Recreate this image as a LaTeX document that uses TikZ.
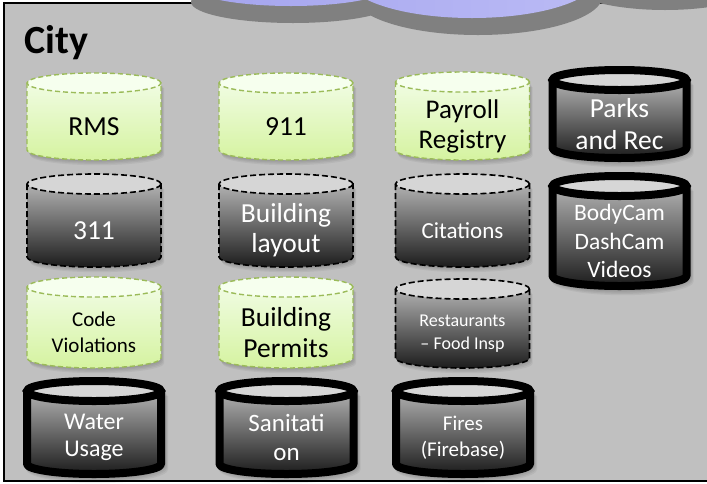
\documentclass[tikz,border=0pt]{standalone}
\usepackage{fontspec}
\setmainfont{Carlito}
\definecolor{panelgray}{HTML}{C0C0C0}
\definecolor{cloudshadow}{HTML}{808080}
\definecolor{cloudL}{HTML}{A4A4EE}
\definecolor{cloudR}{HTML}{C4C4F8}
\definecolor{greenline}{HTML}{9BBB59}
\definecolor{greencapfill}{HTML}{F6FFEE}
\definecolor{greenhi}{HTML}{F0FCE2}
\definecolor{greenlo}{HTML}{D5F3A0}
\definecolor{darkhi}{HTML}{B2B2B2}
\definecolor{darklo}{HTML}{1C1C1C}
\definecolor{darkcapfill}{HTML}{D6D6D6}
\tikzset{
  greenbody/.style={top color=greenhi, bottom color=greenlo, draw=greenline,
    line width=1.4pt, dash pattern=on 5pt off 3pt},
  greencap/.style={fill=greencapfill, draw=greenline, line width=1.4pt,
    dash pattern=on 5pt off 3pt},
  greentext/.style={text=black},
  dashbody/.style={top color=darkhi, bottom color=darklo, draw=black,
    line width=1.6pt, dash pattern=on 6pt off 3pt},
  dashcap/.style={fill=darkcapfill, draw=black, line width=1.6pt,
    dash pattern=on 6pt off 3pt},
  dashtext/.style={text=white},
  thickbody/.style={top color=darkhi, bottom color=darklo, draw=black,
    line width=8pt, line join=round},
  thickcap/.style={fill=darkcapfill, draw=black, line width=8pt},
  thicktext/.style={text=white},
  cylshadow/.style={fill=black, opacity=0.05},
}
% extra reach of the soft shadow for the heavy-outlined stores
\def\greenpad{0}\def\dashpad{0}\def\thickpad{4}
% \dbcyl{name}{centre x}{top y}{bottom y}{kind}{font}{label}
\newcommand\dbcyl[7]{%
  \pgfmathsetmacro\pd{\csname #5pad\endcsname}%
  \pgfmathsetmacro\cxl{#2-67}%
  \pgfmathsetmacro\cxr{#2+67}%
  \pgfmathsetmacro\yt{-(#3)-10}%
  \pgfmathsetmacro\yb{-(#4)+10}%
  \foreach \k in {1,...,4}{%
    \fill[cylshadow, shift={(0.8*\k,-1.3*\k)}]
      (\cxl-\pd,\yt) -- (\cxl-\pd,\yb)
      arc[start angle=180, end angle=360, x radius=67+\pd, y radius=10+\pd]
      -- (\cxr+\pd,\yt) -- cycle;}%
  \path[#5body] (\cxl,\yt) -- (\cxl,\yb)
    arc[start angle=180, end angle=360, x radius=67, y radius=10]
    -- (\cxr,\yt) -- cycle;
  \path[#5cap] (#2,\yt) ellipse[x radius=67, y radius=10];
  \node[#5text, font=#6, align=center, inner sep=0pt] (#1)
    at (#2,{(\yt+\yb)/2-10}) {#7};
}
\newcommand\fsz[2]{\fontsize{#1}{#2}\selectfont}
\begin{document}
\begin{tikzpicture}[x=1pt, y=1pt]
\useasboundingbox (0,0) rectangle (707,-483);
\begin{scope}
  \clip (0,0) rectangle (707,-483);
  % city panel
  \filldraw[fill=panelgray, draw=black, line width=2pt] (4,-3) rectangle (740,-481);
  % cloud overhead: shadow first, then the lavender body
  \fill[cloudshadow] (293,-2) ellipse[x radius=102, y radius=21]
                     (478,5) ellipse[x radius=125, y radius=40]
                     (665,25) ellipse[x radius=110, y radius=35];
  \path[left color=cloudL, right color=cloudR]
                     (291,15) ellipse[x radius=102, y radius=21]
                     (472,22) ellipse[x radius=125, y radius=40]
                     (660,42) ellipse[x radius=110, y radius=35];
\end{scope}
\node[font=\bfseries\fsz{40}{48}, anchor=base west, inner sep=0pt] (city) at (24,-53) {City};
% row 1
\dbcyl{rms}{94}{73}{160}{green}{\fsz{27.5}{31}}{RMS}
\dbcyl{nineoneone}{286}{73}{160}{green}{\fsz{27.5}{31}}{911}
\dbcyl{payroll}{462.5}{72}{160}{green}{\fsz{27}{30}}{Payroll\\Registry}
\dbcyl{parks}{619.5}{70}{158}{thick}{\fsz{27.5}{32}}{Parks\\and Rec}
% row 2
\dbcyl{threeoneone}{94}{174}{267}{dash}{\fsz{27.5}{31}}{311}
\dbcyl{layout}{286}{174}{267}{dash}{\fsz{27.5}{30}}{Building\\layout}
\dbcyl{citations}{462.5}{174}{267}{dash}{\fsz{23}{28}}{Citations}
\dbcyl{bodycam}{619.5}{176}{286}{thick}{\fsz{23.5}{28.5}}{BodyCam\\DashCam\\Videos}
% row 3
\dbcyl{codeviol}{94}{277}{368}{green}{\fsz{21}{26}}{Code\\Violations}
\dbcyl{permits}{286}{277}{368}{green}{\fsz{27.5}{31}}{Building\\Permits}
\dbcyl{restaurants}{462.5}{279}{368}{dash}{\fsz{18}{23}}{Restaurants\\– Food Insp}
% row 4
\dbcyl{water}{94}{381}{474}{thick}{\fsz{24}{27}}{Water\\Usage}
\dbcyl{sanitation}{286.5}{381}{474}{thick}{\fsz{25}{29}}{Sanitati\\on}
\dbcyl{fires}{463}{381}{474}{thick}{\fsz{21}{26}}{Fires\\(Firebase)}
\end{tikzpicture}
\end{document}
